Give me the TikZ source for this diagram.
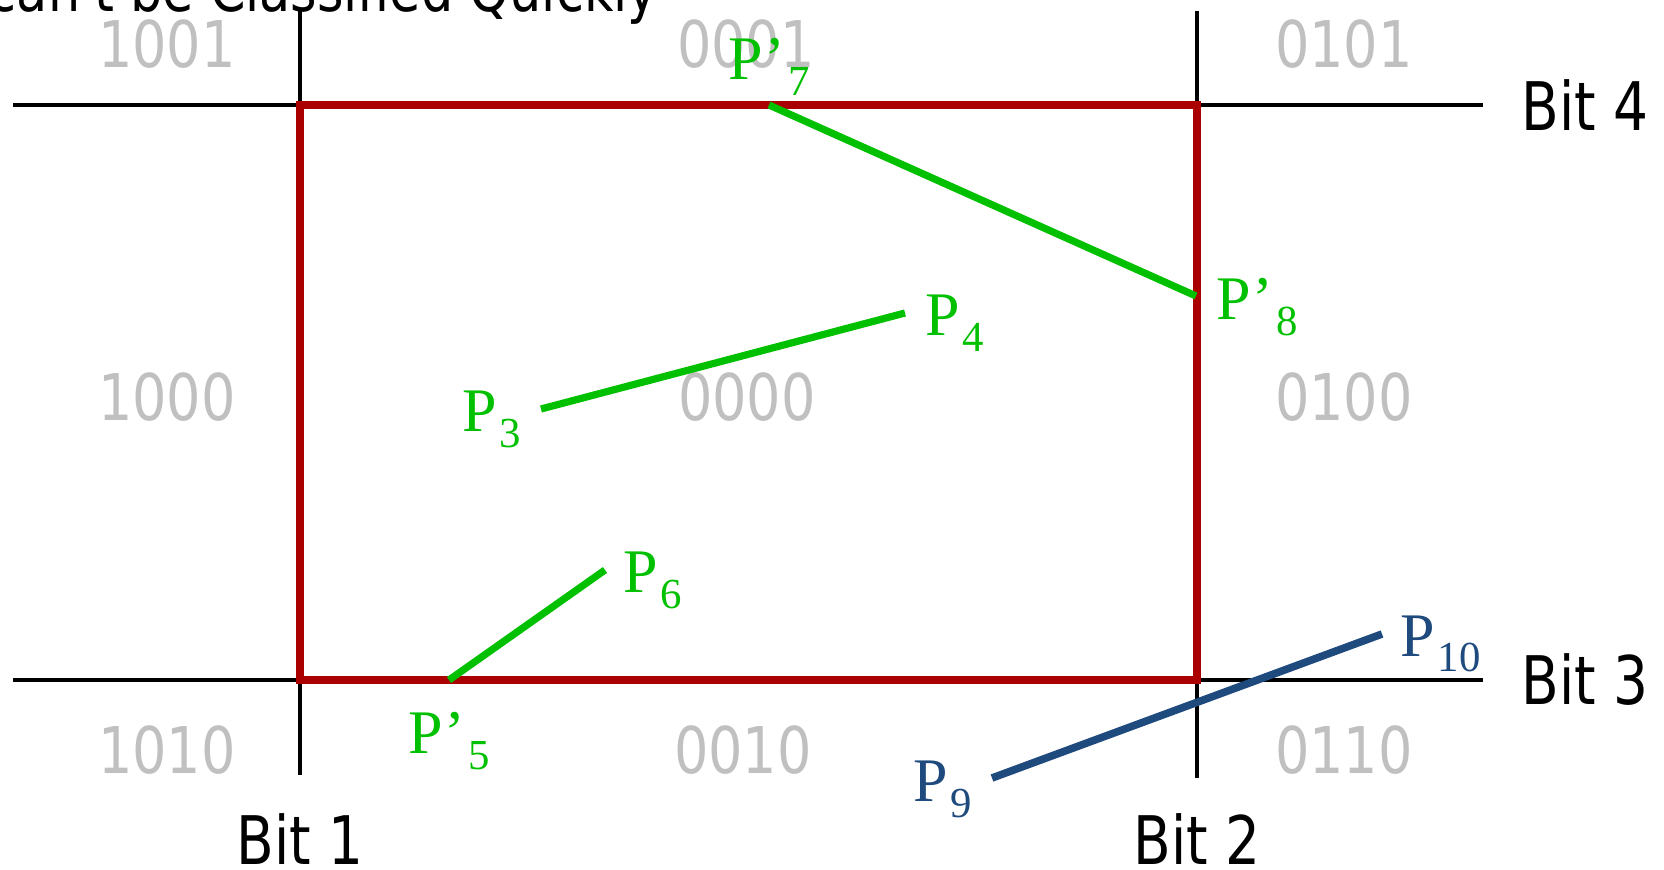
\documentclass[tikz,border=0pt]{standalone}
\usepackage{fontspec}
\usepackage{tikz}
\usetikzlibrary{positioning}
\newfontfamily\bitfont{DejaVu Sans}[FakeStretch=0.82]
\newfontfamily\codefont{DejaVu Sans}[FakeStretch=0.84]
\newfontfamily\ptfont{Liberation Serif}
\definecolor{clipred}  {HTML}{AA0000}
\definecolor{ingreen}  {HTML}{00C000}
\definecolor{outblue}  {HTML}{1F4A7D}
\definecolor{codegray} {HTML}{C0C0C0}
\newcommand\ptsub[1]{\kern1.5pt\raisebox{-8pt}{\fontsize{21.4}{22}\selectfont #1}}

\begin{document}
\begin{tikzpicture}[
    x=0.5pt, y=-0.5pt,
    axis/.style={line width=2.2pt, black},
    window/.style={line width=4pt, clipred},
    inseg/.style={line width=3.6pt, ingreen},
    outseg/.style={line width=3.8pt, outblue},
    code/.style={font=\codefont\fontsize{32.2}{33}\selectfont, text=codegray,
                 inner sep=0pt},
    bitlab/.style={font=\bitfont\fontsize{33.5}{34}\selectfont, inner sep=0pt},
    ptlab/.style={font=\ptfont\fontsize{31}{32}\selectfont, inner sep=0pt,
                  anchor=base west},
  ]
    \useasboundingbox (0,0) rectangle (1664,870);

    % Boundary lines of the window
    \coordinate (b4w) at (13,105);   \coordinate (b4e) at (1483,105);
    \coordinate (b3w) at (13,680);   \coordinate (b3e) at (1483,680);
    \coordinate (b1n) at (300,11);   \coordinate (b1s) at (300,775);
    \coordinate (b2n) at (1197,11);  \coordinate (b2s) at (1197,778);

    \draw[axis] (b4w) -- (b4e);
    \draw[axis] (b3w) -- (b3e);
    \draw[axis] (b1n) -- (b1s);
    \draw[axis] (b2n) -- (b2s);

    \node[bitlab, font=\bitfont\fontsize{31}{32}\selectfont,
          anchor=base east] (title) at (658,12)
      {can't be Classified Quickly};
    \node[bitlab, right=19pt of b4e] (bit4) {Bit 4};
    \node[bitlab, right=19pt of b3e] (bit3) {Bit 3};
    \node[bitlab, below=19pt of b1s] (bit1) {Bit 1};
    \node[bitlab, below=17.5pt of b2s] (bit2) {Bit 2};

    % Region outcodes
    \node[code] (c1001) at (167,44)  {1001};
    \node[code] (c0001) at (746,44)  {0001};
    \node[code] (c0101) at (1344,44) {0101};
    \node[code] (c1000) at (167,397) {1000};
    \node[code] (c0000) at (747,397) {0000};
    \node[code] (c0100) at (1344,397) {0100};
    \node[code] (c1010) at (167,750) {1010};
    \node[code] (c0010) at (743,750) {0010};
    \node[code] (c0110) at (1344,750) {0110};

    % Clip window
    \coordinate (wnw) at (300,105);
    \coordinate (wse) at (1197,680);
    \draw[window] (wnw) rectangle (wse);

    % Segment end points
    \coordinate (p7) at (769,105);  \coordinate (p8) at (1196,296);
    \coordinate (p3) at (541,409);  \coordinate (p4) at (905,313);
    \coordinate (p5) at (449,680);  \coordinate (p6) at (605,570);
    \coordinate (p9) at (992,778);  \coordinate (p10) at (1382,634);

    \draw[inseg]  (p7) -- (p8);
    \draw[inseg]  (p3) -- (p4);
    \draw[inseg]  (p5) -- (p6);
    \draw[outseg] (p9) -- (p10);

    \node[ptlab, text=ingreen] (lab7) at (728,80)   {P\kern1pt’\ptsub{7}};
    \node[ptlab, text=ingreen] (lab8) at (1216,320) {P\kern1pt’\ptsub{8}};
    \node[ptlab, text=ingreen] (lab3) at (462,432)  {P\ptsub{3}};
    \node[ptlab, text=ingreen] (lab4) at (925,336)  {P\ptsub{4}};
    \node[ptlab, text=ingreen] (lab5) at (408,753)  {P\kern1pt’\ptsub{5}};
    \node[ptlab, text=ingreen] (lab6) at (623,593)  {P\ptsub{6}};
    \node[ptlab, text=outblue] (lab9) at (913,801)  {P\ptsub{9}};
    \node[ptlab, text=outblue] (lab10) at (1400,656) {P\ptsub{10}};
  \end{tikzpicture}
\end{document}
